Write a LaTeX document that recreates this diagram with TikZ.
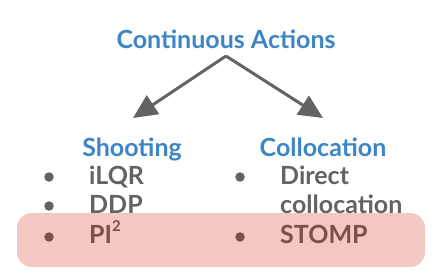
\documentclass[tikz,border=0pt]{standalone}
\usepackage{fontspec}
\setmainfont{Lato}
\usetikzlibrary{arrows.meta}
\definecolor{hblue}{HTML}{3D85C6}
\definecolor{tgray}{HTML}{636363}
\definecolor{hbox}{HTML}{F4C7C3}
\definecolor{tbrown}{HTML}{7D5050}
\tikzset{
  head/.style={anchor=base, text=hblue, font=\fontsize{25}{28}\selectfont\bfseries, inner sep=0pt},
  item/.style={anchor=base west, text=tgray, font=\fontsize{25}{28}\selectfont\bfseries, inner sep=0pt},
  hitem/.style={item, text=tbrown},
  dot/.style={circle, fill=tgray, minimum size=9.5pt, inner sep=0pt},
  hdot/.style={dot, fill=tbrown},
  arr/.style={draw=tgray, line width=3pt, -{Triangle[length=24pt,width=22pt]}},
  hl/.style={fill=hbox, rounded corners=15pt}
}
\begin{document}
\begin{tikzpicture}[x=1pt,y=-1pt]
\useasboundingbox (0,0) rectangle (435,274);
\fill[white] (0,0) rectangle (435,274);
\path[hl] (17,213) rectangle (425,267);
\node[head] (top) at (226,48) {Continuous Actions};
\coordinate (apex) at (226,56);
\coordinate (lt) at (133,118);
\coordinate (rt) at (323,118);
\draw[arr] (apex) -- (lt);
\draw[arr] (apex) -- (rt);
\node[head] (shoot) at (132,156) {Shooting};
\node[head] (coll) at (323,156) {Collocation};
\node[dot] (b1) at (49,177) {};
\node[dot] (b2) at (49,206) {};
\node[hdot] (b3) at (49,237) {};
\node[dot] (c1) at (240,177) {};
\node[hdot] (c3) at (240,237) {};
\node[item] (i1) at (89,184) {iLQR};
\node[item] (i2) at (89,213) {DDP};
\node[hitem] (i3) at (89,243) {PI\raisebox{0.45em}{\fontsize{15}{15}\selectfont 2}};
\node[item] (j1) at (280,184) {Direct};
\node[item] (j2) at (280,213) {collocation};
\node[hitem] (j3) at (280,243) {STOMP};
\end{tikzpicture}
\end{document}
